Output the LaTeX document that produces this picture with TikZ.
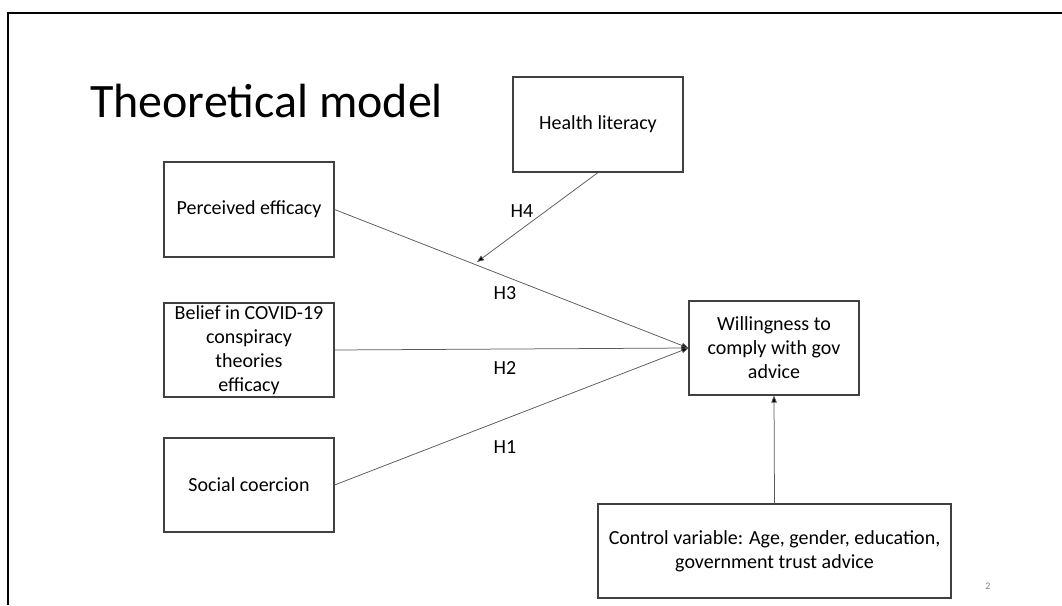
\documentclass[tikz,border=0pt]{standalone}
\usepackage{fontspec}
\setmainfont{Carlito}
\usetikzlibrary{arrows.meta}
\definecolor{boxline}{HTML}{404040}
\definecolor{conline}{HTML}{5A5A5A}
\begin{document}
\begin{tikzpicture}[x=1pt,y=-1pt,
  box/.style={draw=boxline,line width=1.1pt,inner sep=0pt,minimum width=170pt,minimum height=95pt,align=center,font=\fontsize{20}{24}\selectfont,fill=white},
  conn/.style={draw=conline,line width=0.75pt,-{Triangle[length=7pt,width=5.5pt,fill=black]}},
  lab/.style={font=\fontsize{20}{24}\selectfont,inner sep=0pt}]
\useasboundingbox[fill=white] (0,0) rectangle (1062,605);
% slide frame
\draw[line width=2pt,black] (8,605) -- (8,13) -- (1062,13);
% title
\node[anchor=base west,inner sep=0pt,font=\fontsize{48}{56}\selectfont] (title) at (90,117) {Theoretical model};
% boxes
\node[box] (health) at (598,124.5) {Health literacy};
\node[box] (perc) at (249,209.5) {Perceived efficacy};
\node[box,minimum height=94pt] (belief) at (249,350) {Belief in COVID-19\\conspiracy\\theories\\efficacy};
\node[box,minimum height=94pt] (social) at (249,485) {Social coercion};
\node[box,minimum height=94pt] (will) at (774,348) {Willingness to\\comply with gov\\advice};
\node[box,minimum width=353pt,minimum height=94pt] (ctrl) at (774.5,551) {Control variable: Age, gender, education,\\government trust advice};
% connectors
\coordinate (mod) at (477,262);
\draw[conn] (perc.east) -- (will.west);
\draw[conn] (belief.east) -- (will.west);
\draw[conn] (social.east) -- (will.west);
\draw[conn] (health.south) -- (mod);
\draw[conn] (ctrl.north) -- (will.south);
% labels
\node[lab] (h4) at (522,211) {H4};
\node[lab] (h3) at (505,293) {H3};
\node[lab] (h2) at (505,368) {H2};
\node[lab] (h1) at (505,447) {H1};
% page number
\node[inner sep=0pt,font=\fontsize{10}{12}\selectfont,text=gray] (pg) at (988,586) {2};
\end{tikzpicture}
\end{document}
